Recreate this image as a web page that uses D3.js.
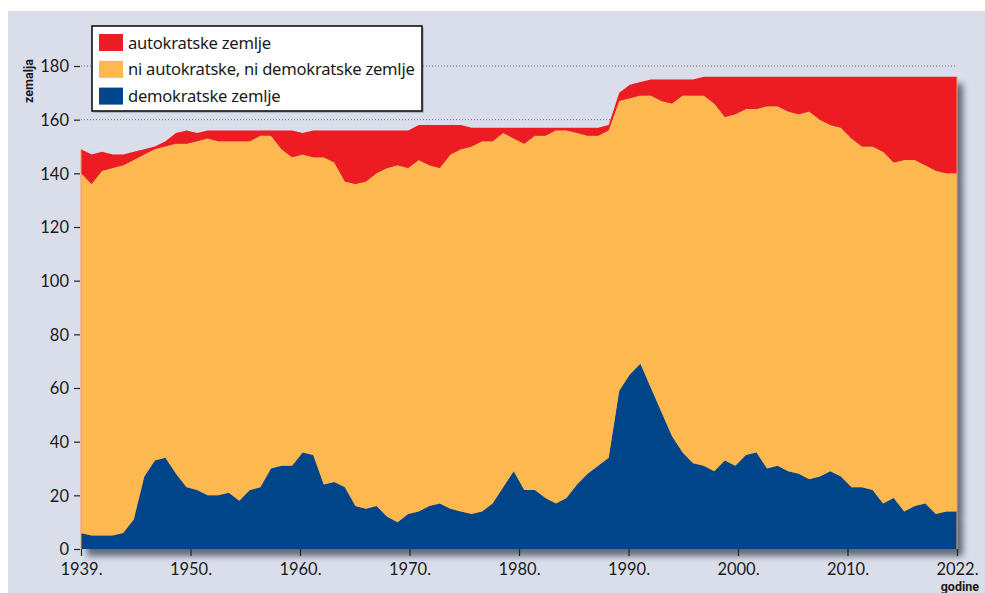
<!DOCTYPE html>
<html><head><meta charset="utf-8">
<script src="https://cdn.jsdelivr.net/npm/d3@7"></script>
<style>
html,body{margin:0;padding:0;background:#fff;}
svg{display:block;}
text{font-family:"Noto Sans",sans-serif;}
</style></head><body>
<svg id="c" width="985" height="593"></svg>
<script>
// ---- data ----
const years = d3.range(1939, 2023);
const demokratske = [6,5,5,5,6,11,27,33,34,28,23,22,20,20,21,18,22,23,30,31,31,36,35,24,25,23,16,15,16,12,10,13,14,16,17,15,14,13,14,17,23,29,22,22,19,17,19,24,28,31,34,59,65,69,60,51,42,36,32,31,29,33,31,35,36,30,31,29,28,26,27,29,27,23,23,22,17,19,14,16,17,13,14,14];
const niAutoNiDemo = [134,131,136,137,137,134,120,116,116,123,128,130,133,132,131,134,130,131,124,118,115,111,111,122,119,114,120,122,124,130,133,129,131,127,125,132,135,137,138,135,132,124,129,132,135,139,137,131,126,123,122,108,103,100,109,116,124,133,137,138,137,128,131,129,128,135,134,134,134,137,133,129,130,130,127,128,131,125,131,129,126,128,126,126];
const autokratske = [9,11,7,5,4,3,2,1,2,4,5,3,3,4,4,4,4,2,2,7,10,8,10,10,12,19,20,19,16,14,13,14,13,15,16,11,9,7,5,5,2,4,6,3,3,1,1,2,3,3,2,3,5,5,6,8,9,6,6,7,10,15,14,12,12,11,11,13,14,13,16,18,19,23,26,26,28,32,31,31,33,35,36,36];
const xTickLabels = ["1939.","1950.","1960.","1970.","1980.","1990.","2000.","2010.","2022."];
const yTickValues = [0,20,40,60,80,100,120,140,160,180];
const gridValues = [160,180];
const seriesKeys = ["dem","ni","aut"];
const legendLabels = ["autokratske zemlje","ni autokratske, ni demokratske zemlje","demokratske zemlje"];
const legendKeys = ["aut","ni","dem"];
const colors = {aut:"#ed1c24", ni:"#fdb94f", dem:"#00458a"};

// ---- layout ----
const svg = d3.select("#c");
const x = d3.scaleLinear().domain([1939, 2022]).range([81, 957]);
const y = d3.scaleLinear().domain([0, 180]).range([549, 66]);
const xTick = d3.scalePoint().domain(xTickLabels).range([81, 957]);
const tickFont = "Lato, 'Noto Sans', sans-serif";

svg.append("rect").attr("x",8).attr("y",11).attr("width",977).attr("height",582).attr("fill","#dadeeb");

const defs = svg.append("defs");
const f = defs.append("filter").attr("id","sh").attr("x","-5%").attr("y","-5%").attr("width","115%").attr("height","115%");
f.append("feDropShadow").attr("dx",6).attr("dy",7).attr("stdDeviation",3).attr("flood-color","#3c4150").attr("flood-opacity",0.75);

// grid lines
svg.append("g").selectAll("line").data(gridValues).join("line")
  .attr("x1",81).attr("x2",957).attr("y1",d=>y(d)).attr("y2",d=>y(d))
  .attr("stroke","#6a6d78").attr("stroke-width",1).attr("stroke-dasharray","1,2");

// stacked data
const table = years.map((yr,i)=>({year:yr, dem:demokratske[i], ni:niAutoNiDemo[i], aut:autokratske[i]}));
const stacked = d3.stack().keys(seriesKeys)(table);
const area = d3.area().x(d=>x(d.data.year)).y0(d=>y(d[0])).y1(d=>y(d[1]));

const g = svg.append("g").attr("filter","url(#sh)");
g.selectAll("path").data(stacked).join("path")
  .attr("d", area).attr("fill", d=>colors[d.key]);

// thin edge lines
const last = table.length-1;
svg.append("g").selectAll("line").data([0,last]).join("line")
  .attr("x1",i=>x(table[i].year)).attr("x2",i=>x(table[i].year))
  .attr("y1",y(0)).attr("y2",i=>y(table[i].dem+table[i].ni+table[i].aut))
  .attr("stroke","#f39a6b").attr("stroke-width",1);

// y axis
const yAxis = d3.axisLeft(y).tickValues(yTickValues).tickSize(6).tickPadding(5).tickFormat(d3.format("d"));
const ya = svg.append("g").attr("transform","translate(80,0)").call(yAxis);
ya.select(".domain").remove();
ya.selectAll(".tick line").attr("stroke","#222").attr("stroke-width",1.2);
ya.selectAll(".tick text").attr("fill","#1a1a1a").attr("dy","0.35em").style("font-size","16.5px").style("font-family",tickFont);

// x axis
const xAxis = d3.axisBottom(xTick).tickSize(7).tickPadding(7);
const xa = svg.append("g").attr("transform","translate(0,549)").call(xAxis);
xa.select(".domain").remove();
xa.selectAll(".tick line").attr("stroke","#222").attr("stroke-width",1.2);
xa.selectAll(".tick text").attr("fill","#1a1a1a").style("font-size","16.5px").style("font-family",tickFont);

// axis titles
svg.append("text").attr("transform","translate(33,81) rotate(-90)").attr("text-anchor","middle")
  .style("font-family","Roboto,sans-serif").style("font-weight","bold").style("font-size","12.5px").attr("fill","#1a1a1a").text("zemalja");
svg.append("text").attr("x",979).attr("y",591).attr("text-anchor","end")
  .style("font-family","Roboto,sans-serif").style("font-weight","bold").style("font-size","12.5px").attr("fill","#1a1a1a").text("godine");

// legend
const lg = svg.append("g");
lg.append("rect").attr("x",93).attr("y",28).attr("width",331).attr("height",85).attr("fill","#8a8d98").attr("opacity",0.5);
lg.append("rect").attr("x",92).attr("y",26).attr("width",330).attr("height",85).attr("fill","#fff").attr("stroke","#111").attr("stroke-width",1.6);
const li = lg.selectAll("g.it").data(legendKeys).join("g").attr("class","it")
  .attr("transform",(d,i)=>`translate(99,${34+i*26.8})`);
li.append("rect").attr("width",24).attr("height",17).attr("fill",d=>colors[d]);
li.append("text").attr("x",29).attr("y",14.5).attr("fill","#1a1a1a")
  .style("font-size","16.6px").style("letter-spacing","-0.25px").text((d,i)=>legendLabels[i]);
</script>
</body></html>
